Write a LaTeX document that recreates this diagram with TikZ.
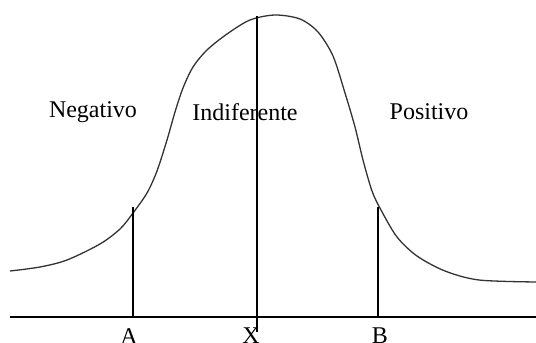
\documentclass[tikz,border=0pt]{standalone}
\usepackage{fontspec}
\setmainfont{Liberation Serif}
\begin{document}
\begin{tikzpicture}[x=1pt,y=-1pt,
  axis/.style={line width=2pt,black},
  mark line/.style={line width=2pt,black},
  curve/.style={line width=1.3pt,black!80},
  lab/.style={font=\fontsize{24}{28}\selectfont,inner sep=0pt}]
\useasboundingbox (0,0) rectangle (536,343);
% axis
\coordinate (L) at (10,317);
\coordinate (R) at (536,317);
\draw[axis] (L) -- (R);
% curve
\draw[curve] plot[smooth,tension=0.5] coordinates {(10,271) (40,267) (67,260) (100,244) (120,229) (133,213) (147,193) (157,171) (167,140) (175,112) (183,88) (193,67) (207,50) (227,34) (250,20) (275,15) (300,19) (318,32) (333,56) (345,93) (355,127) (363,160) (372,191) (381,210) (397,237) (417,256) (445,271) (479,280) (536,282)};
% vertical lines
\coordinate (Atop) at (133,207); \coordinate (Abot) at (133,316);
\coordinate (Xtop) at (257,16); \coordinate (Xbot) at (257,332);
\coordinate (Btop) at (378,207); \coordinate (Bbot) at (378,316);
\draw[mark line] (Atop) -- (Abot);
\draw[mark line] (Xtop) -- (Xbot);
\draw[mark line] (Btop) -- (Bbot);
% labels
\node[lab] (neg) at (93,112) {Negativo};
\node[lab] (ind) at (245,112) {Indiferente};
\node[lab] (pos) at (429,112) {Positivo};
\node[lab,anchor=north] (a) at (129,328) {A};
\node[lab,anchor=north] (x) at (251,328) {X};
\node[lab,anchor=north] (b) at (380,328) {B};
\end{tikzpicture}
\end{document}
